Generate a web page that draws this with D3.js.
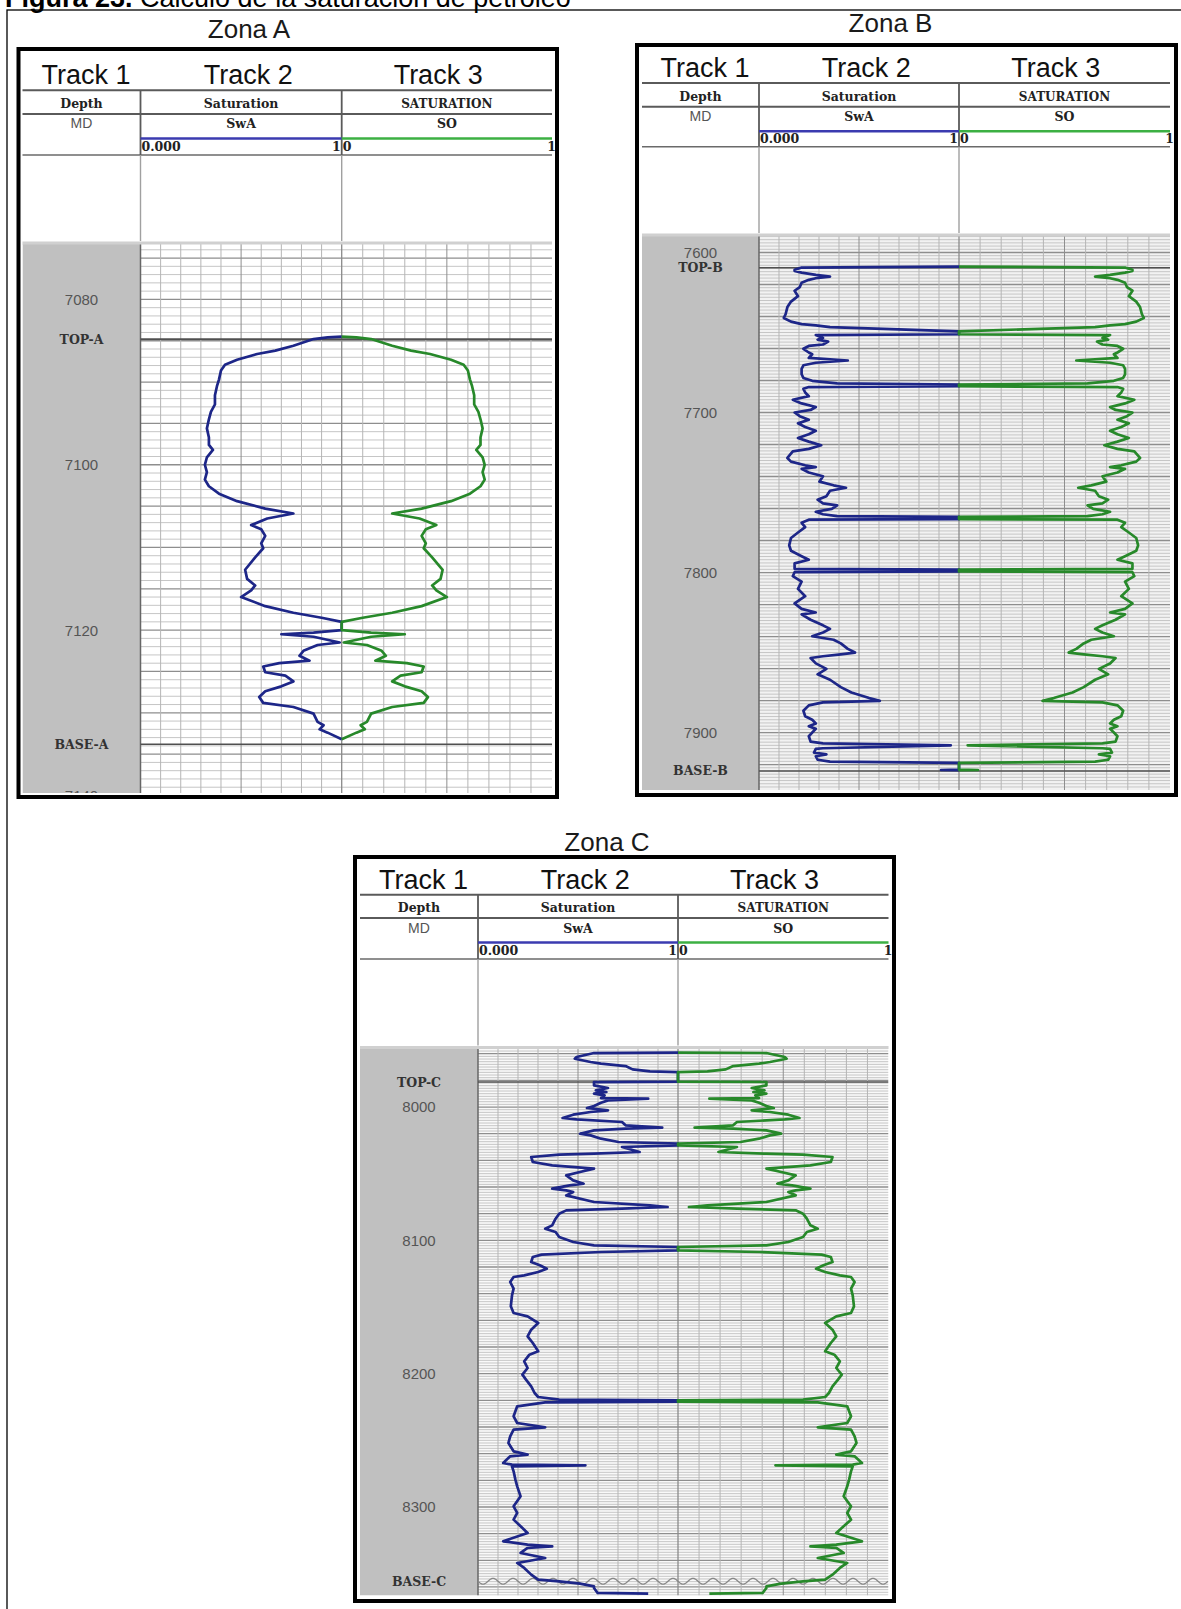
<!DOCTYPE html>
<html><head><meta charset="utf-8">
<script src="https://cdn.jsdelivr.net/npm/d3@7"></script>
<style>
html,body{margin:0;padding:0;background:#fff;overflow:hidden}
svg{display:block}
</style></head><body>
<svg id="chart" width="1181" height="1609"></svg>
<script>
// ---------------- DATA ----------------
const figureTitle = ["Figura 23.", " Cálculo de la saturación de petróleo"];
const zoneNames = ["Zona A", "Zona B", "Zona C"];
const trackTitles = ["Track 1", "Track 2", "Track 3"];
const headerRow1 = ["Depth", "Saturation", "SATURATION"];
const headerRow2 = ["MD", "SwA", "SO"];
const scaleLabels2 = ["0.000", "1"];
const scaleLabels3 = ["0", "1"];

const depthRangeA = [7073.3, 7139.7];
const depthRangeB = [7589.7, 7935.9];
const depthRangeC = [7956.1, 8366.4];

const depthTicksA = [7080, 7100, 7120, 7140];
const depthTicksB = [7600, 7700, 7800, 7900];
const depthTicksC = [8000, 8100, 8200, 8300];

const markerNamesA = ["TOP-A", "BASE-A"];
const markerDepthsA = [7084.8, 7133.8];
const markerNamesB = ["TOP-B", "BASE-B"];
const markerDepthsB = [7609.5, 7924.0];
const markerNamesC = ["TOP-C", "BASE-C"];
const markerDepthsC = [7981.25, 8355.75];

// Zona A
const depthA = [7084.5,7084.6,7084.8,7085.6,7086.2,7086.6,7087.3,7087.9,7088.6,7089.7,
7090.5,7091.6,7092.7,7093.6,7094.5,7095.6,7096.7,7097.6,7098.2,7099.1,
7100.0,7100.9,7101.8,7102.6,7103.5,7104.4,7105.3,7105.9,7106.5,7107.3,
7107.8,7108.6,7109.5,7110.1,7111.2,7112.7,7113.8,7114.6,7115.2,7116.0,
7117.1,7117.9,7118.5,7119.0,7120.0,7120.3,7120.5,7120.8,7121.5,7121.8,
7122.5,7123.1,7123.7,7124.0,7124.4,7125.1,7125.5,7126.2,7126.8,7127.4,
7128.1,7128.8,7129.3,7130.1,7131.1,7131.5,7132.0,7132.4,7133.2];
const swA = [1.00,0.93,0.86,0.76,0.67,0.58,0.48,0.42,0.40,0.39,
0.38,0.37,0.37,0.35,0.34,0.33,0.34,0.34,0.36,0.33,
0.32,0.33,0.32,0.34,0.39,0.48,0.62,0.76,0.63,0.55,
0.60,0.62,0.60,0.61,0.57,0.52,0.53,0.57,0.55,0.50,
0.62,0.76,0.90,1.00,1.00,0.86,0.70,0.86,0.99,0.88,
0.81,0.79,0.84,0.69,0.61,0.62,0.72,0.76,0.70,0.62,
0.59,0.61,0.76,0.86,0.88,0.91,0.89,0.93,1.00];
const soA = [0.00,0.07,0.14,0.24,0.33,0.42,0.52,0.58,0.60,0.61,
0.62,0.63,0.63,0.65,0.66,0.67,0.66,0.66,0.64,0.67,
0.68,0.67,0.68,0.66,0.61,0.52,0.38,0.24,0.37,0.45,
0.40,0.38,0.40,0.39,0.43,0.48,0.47,0.43,0.45,0.50,
0.38,0.24,0.10,0.00,0.00,0.14,0.30,0.14,0.01,0.12,
0.19,0.21,0.16,0.31,0.39,0.38,0.28,0.24,0.30,0.38,
0.41,0.39,0.24,0.14,0.12,0.09,0.11,0.07,0.00];

// Zona B
const depthB = [7608.8,7609.1,7609.5,7610.8,7611.5,7612.6,7614.0,7615.1,7616.1,7617.1,
7618.9,7621.6,7623.9,7627.3,7630.7,7634.1,7638.6,7640.9,7643.2,7644.8,
7645.5,7646.6,7649.3,7651.1,7651.6,7653.4,7654.5,7655.7,7657.5,7658.4,
7660.2,7662.5,7663.6,7665.9,7667.5,7668.9,7670.5,7672.7,7676.1,7678.4,
7680.2,7681.8,7682.5,7683.6,7684.1,7685.2,7687.5,7689.8,7692.0,7694.3,
7696.6,7698.4,7700.0,7702.3,7704.5,7706.8,7709.1,7711.4,7713.6,7715.9,
7718.2,7720.5,7722.7,7724.3,7728.4,7730.7,7733.0,7734.1,7735.2,7737.5,
7739.8,7743.2,7745.5,7747.0,7748.9,7752.3,7754.5,7756.8,7758.0,7760.2,
7762.0,7763.6,7764.8,7765.2,7766.6,7767.0,7768.9,7771.6,7775.0,7778.4,
7783.0,7786.4,7789.8,7792.0,7794.3,7797.7,7798.2,7799.3,7799.8,7802.3,
7805.7,7810.2,7814.8,7819.3,7822.7,7825.0,7826.1,7829.5,7833.0,7835.2,
7837.5,7839.8,7842.0,7844.3,7847.7,7850.0,7851.1,7852.3,7853.4,7856.8,
7860.2,7863.6,7867.0,7871.6,7875.0,7878.4,7880.2,7881.1,7883.0,7886.4,
7889.8,7892.0,7894.3,7896.1,7897.7,7900.0,7902.3,7905.7,7906.8,7908.0,
7909.8,7910.2,7912.5,7913.6,7914.8,7917.0,7918.2,7918.9,7923.2,7923.4,
7923.7];
const swB = [1.0,.57,.21,.178,.178,.213,.284,.355,.284,.249,
.213,.204,.178,.195,.16,.142,.133,.124,.16,.213,
.284,.355,1,1,.284,.32,.293,.346,.32,.249,
.222,.249,.266,.249,.444,.284,.222,.213,.213,.222,
.266,.391,1,1,.249,.222,.231,.249,.169,.213,
.284,.258,.178,.204,.249,.195,.231,.284,.249,.195,
.249,.311,.249,.169,.142,.16,.231,.284,.213,.249,
.32,.302,.373,.435,.355,.337,.293,.32,.391,.364,
.284,.32,.391,1,1,.249,.213,.231,.195,.16,
.151,.16,.213,.249,.178,.178,1,1,.178,.169,
.213,.195,.231,.178,.213,.284,.213,.258,.32,.355,
.32,.266,.373,.409,.444,.48,.409,.32,.258,.284,
.337,.293,.355,.409,.462,.551,.604,.32,.249,.222,
.231,.266,.284,.249,.284,.266,.249,.258,.32,.959,
.32,.284,.275,.337,.284,.293,.355,1,1,.91,
1];
const soB = [0,.43,.79,.822,.822,.787,.716,.645,.716,.751,
.787,.796,.822,.805,.84,.858,.867,.876,.84,.787,
.716,.645,0,0,.716,.68,.707,.654,.68,.751,
.778,.751,.734,.751,.556,.716,.778,.787,.787,.778,
.734,.609,0,0,.751,.778,.769,.751,.831,.787,
.716,.742,.822,.796,.751,.805,.769,.716,.751,.805,
.751,.689,.751,.831,.858,.84,.769,.716,.787,.751,
.68,.698,.627,.565,.645,.663,.707,.68,.609,.636,
.716,.68,.609,0,0,.751,.787,.769,.805,.84,
.849,.84,.787,.751,.822,.822,0,0,.822,.831,
.787,.805,.769,.822,.787,.716,.787,.742,.68,.645,
.68,.734,.627,.591,.556,.52,.591,.68,.742,.716,
.663,.707,.645,.591,.538,.449,.396,.68,.751,.778,
.769,.734,.716,.751,.716,.734,.751,.742,.68,.041,
.68,.716,.725,.663,.716,.707,.645,0,0,.09,
0];

// Zona C
const depthC = [7959.25,7959.5,7962.5,7963.75,7966.25,7967.5,7969.25,7971.75,7973.25,7973.75,
7981.0,7981.25,7983.75,7985.75,7987.5,7988.75,7990.0,7991.25,7993.25,7993.75,
7995.0,7996.75,7999.25,8000.75,8002.5,8003.75,8005.75,8008.25,8009.25,8011.25,
8013.75,8015.5,8016.25,8017.5,8020.0,8021.25,8023.75,8026.25,8027.5,8028.75,
8030.0,8033.75,8035.0,8035.75,8037.5,8041.25,8043.75,8046.25,8048.75,8051.25,
8055.0,8057.5,8058.75,8061.25,8062.5,8063.75,8066.25,8071.25,8073.75,8075.0,
8076.25,8077.5,8080.0,8083.75,8088.75,8091.25,8093.75,8097.5,8101.25,8103.75,
8105.0,8107.5,8108.75,8110.75,8112.5,8116.25,8118.75,8121.25,8123.75,8126.25,
8127.5,8131.25,8136.25,8141.25,8149.5,8154.5,8157.0,8159.5,8162.0,8167.0,
8172.0,8177.0,8183.25,8185.75,8190.75,8195.75,8200.75,8204.5,8209.5,8214.5,
8217.5,8219.5,8220.0,8221.0,8221.5,8224.5,8228.25,8232.0,8237.0,8240.25,
8242.0,8247.0,8252.0,8258.25,8260.75,8262.0,8267.0,8268.25,8268.75,8269.5,
8273.25,8279.5,8284.5,8292.0,8299.5,8304.5,8309.5,8314.5,8319.5,8325.75,
8328.25,8329.5,8330.75,8334.5,8338.25,8342.0,8345.75,8350.75,8354.5,8355.75,
8357.5,8359.5,8360.75,8364.5,8365.0];
const swC = [1,.58,.493,.484,.563,.615,.738,.773,.86,1,
1,.58,.58,.65,.589,.642,.58,.633,.615,.851,
.65,.615,.58,.545,.65,.563,.476,.423,.493,.72,
.738,.921,.738,.58,.51,.563,.615,.703,1,1,
.72,.808,.58,.406,.266,.274,.371,.58,.51,.441,
.476,.528,.458,.371,.441,.476,.441,.58,.86,.948,
.72,.441,.406,.388,.371,.336,.388,.406,.476,.58,
1,1,.615,.318,.274,.266,.309,.344,.301,.231,
.178,.161,.178,.17,.164,.178,.248,.274,.301,.266,
.248,.274,.301,.257,.231,.248,.222,.24,.266,.283,
.301,.406,1,1,.336,.196,.187,.178,.196,.336,
.178,.161,.152,.178,.248,.161,.126,.17,.537,.17,
.178,.187,.196,.213,.178,.196,.178,.213,.248,.126,
.248,.371,.248,.213,.336,.196,.231,.266,.301,.406,
.51,.58,.58,.598,.851];
const soC = [0,.42,.507,.516,.437,.385,.262,.227,.14,0,
0,.42,.42,.35,.411,.358,.42,.367,.385,.149,
.35,.385,.42,.455,.35,.437,.524,.577,.507,.28,
.262,.079,.262,.42,.49,.437,.385,.297,0,0,
.28,.192,.42,.594,.734,.726,.629,.42,.49,.559,
.524,.472,.542,.629,.559,.524,.559,.42,.14,.052,
.28,.559,.594,.612,.629,.664,.612,.594,.524,.42,
0,0,.385,.682,.726,.734,.691,.656,.699,.769,
.822,.839,.822,.83,.836,.822,.752,.726,.699,.734,
.752,.726,.699,.743,.769,.752,.778,.76,.734,.717,
.699,.594,0,0,.664,.804,.813,.822,.804,.664,
.822,.839,.848,.822,.752,.839,.874,.83,.463,.83,
.822,.813,.804,.787,.822,.804,.822,.787,.752,.874,
.752,.629,.752,.787,.664,.804,.769,.734,.699,.594,
.49,.42,.42,.402,.149];

// ---------------- LAYOUT ----------------
const SANS = "'Liberation Sans', Arial, sans-serif";
const SERIF = "'DejaVu Serif', serif";
const BLUE = "#1d2688", GREEN = "#27892a";

const panels = [
  { id: "A", name: zoneNames[0], label: [249, 38], bg: "#ffffff",
    box: [18.5, 49, 557, 797], cols: [22.5, 140.5, 341.7, 552], rows: [90.3, 113.9, 155, 244, 793],
    range: depthRangeA, ticks: depthTicksA, mNames: markerNamesA, mDepths: markerDepthsA,
    minor: 1, major: 5, depth: depthA, sw: swA, so: soA, wavyBase: false },
  { id: "B", name: zoneNames[1], label: [890.5, 32], bg: "#f2f2f2",
    box: [637, 45, 1176, 795], cols: [642, 759, 959, 1170], rows: [83, 106.7, 146.7, 236, 790],
    range: depthRangeB, ticks: depthTicksB, mNames: markerNamesB, mDepths: markerDepthsB,
    minor: 2, major: 20, depth: depthB, sw: swB, so: soB, wavyBase: false },
  { id: "C", name: zoneNames[2], label: [607, 850.5], bg: "#f9f9f9",
    box: [355, 857, 894, 1601], cols: [360, 478, 678, 888.5], rows: [894.7, 918, 959, 1048.5, 1595.5],
    range: depthRangeC, ticks: depthTicksC, mNames: markerNamesC, mDepths: markerDepthsC,
    minor: 2, major: 20, depth: depthC, sw: swC, so: soC, wavyBase: true }
];

const svg = d3.select("#chart");

// outer frame
svg.append("rect").attr("x", 7).attr("y", 10).attr("width", 1400).attr("height", 1800)
  .attr("fill", "none").attr("stroke", "#000").attr("stroke-width", 1.3);

// figure title (cut at the top edge, as in the source image)
const tt = svg.append("text").attr("x", 5).attr("y", 7).style("white-space", "pre")
  .attr("font-family", SANS).attr("font-size", 27).attr("fill", "#000");
tt.append("tspan").attr("font-weight", "bold").text(figureTitle[0]);
tt.append("tspan").text(figureTitle[1]);

function drawPanel(p) {
  const g = svg.append("g");
  const [L, T, R, B] = p.box;
  const [c0, c1, c2, c3] = p.cols;
  const [r1, r2, r3, r4, r5] = p.rows;

  g.append("text").attr("x", p.label[0]).attr("y", p.label[1]).attr("text-anchor", "middle")
    .attr("font-family", SANS).attr("font-size", 26).attr("fill", "#1a1a1a").text(p.name);

  g.append("rect").attr("x", L).attr("y", T).attr("width", R - L).attr("height", B - T).attr("fill", "#fff");

  const y = d3.scaleLinear().domain(p.range).range([r4, r5]);
  const x2 = d3.scaleLinear().domain([0, 1]).range([c1, c2]);
  const x3 = d3.scaleLinear().domain([0, 1]).range([c2, c3]);

  const clipId = "clip" + p.id;
  g.append("clipPath").attr("id", clipId).append("rect")
    .attr("x", c0).attr("y", r4).attr("width", c3 - c0).attr("height", r5 - r4);
  const area = g.append("g").attr("clip-path", `url(#${clipId})`);

  area.append("rect").attr("x", c1).attr("y", r4).attr("width", c3 - c1).attr("height", r5 - r4).attr("fill", p.bg);
  // depth track background
  area.append("rect").attr("x", c0).attr("y", r4).attr("width", c1 - c0).attr("height", r5 - r4).attr("fill", "#c0c0c0");

  // horizontal grid
  const hTicks = d3.range(Math.ceil(p.range[0] / p.minor) * p.minor, p.range[1] + 0.001, p.minor);
  const isMajor = d => Math.round(d) % p.major === 0;
  area.selectAll(null).data(hTicks.filter(d => !isMajor(d))).join("line")
    .attr("x1", c1).attr("x2", c3).attr("y1", d => y(d)).attr("y2", d => y(d))
    .attr("stroke", "#c6c6c6").attr("stroke-width", 1);
  area.selectAll(null).data(hTicks.filter(isMajor)).join("line")
    .attr("x1", c1).attr("x2", c3).attr("y1", d => y(d)).attr("y2", d => y(d))
    .attr("stroke", "#8e8e8e").attr("stroke-width", 1.3);

  // vertical grid
  const vt = d3.range(1, 10).map(i => i / 10);
  [x2, x3].forEach(xs => {
    area.selectAll(null).data(vt).join("line")
      .attr("x1", d => xs(d)).attr("x2", d => xs(d)).attr("y1", r4).attr("y2", r5)
      .attr("stroke", d => Math.abs(d - 0.5) < 1e-9 ? "#8e8e8e" : "#b5b5b5").attr("stroke-width", 1);
  });
  area.append("line").attr("x1", c1).attr("x2", c1).attr("y1", r4).attr("y2", r5).attr("stroke", "#666").attr("stroke-width", 1.5);
  area.append("line").attr("x1", c2).attr("x2", c2).attr("y1", r4).attr("y2", r5).attr("stroke", "#8a8a8a").attr("stroke-width", 1.3);

  // depth labels
  area.selectAll(null).data(p.ticks).join("text")
    .attr("x", (c0 + c1) / 2).attr("y", d => y(d)).attr("dy", "0.36em").attr("text-anchor", "middle")
    .attr("font-family", SANS).attr("font-size", 15).attr("fill", "#555").text(d => d);

  // markers
  const markers = d3.zip(p.mNames, p.mDepths);
  markers.forEach(([name, dep], i) => {
    const yy = y(dep);
    if (p.wavyBase && i === 1) {
      const pts = d3.range(c1, c3 + 1, 2).map(x => [x, yy + 3 * Math.sin((x - c1) / 20 * 2 * Math.PI)]);
      area.append("path").attr("d", d3.line()(pts)).attr("fill", "none").attr("stroke", "#888").attr("stroke-width", 1.3);
    } else {
      area.append("line").attr("x1", c1).attr("x2", c3).attr("y1", yy).attr("y2", yy)
        .attr("stroke", "#505050").attr("stroke-width", 1.6);
    }
    area.append("text").attr("x", (c0 + c1) / 2).attr("y", yy).attr("dy", "0.36em").attr("text-anchor", "middle")
      .attr("font-family", SERIF).attr("font-weight", "bold").attr("font-size", 12.5).attr("fill", "#333").text(name);
  });

  // curves
  const swLine = d3.line().x(d => x2(d[1])).y(d => y(d[0]));
  const soLine = d3.line().x(d => x3(d[1])).y(d => y(d[0]));
  area.append("path").datum(d3.zip(p.depth, p.sw)).attr("d", swLine)
    .attr("fill", "none").attr("stroke", BLUE).attr("stroke-width", 2.7).attr("stroke-linejoin", "round");
  area.append("path").datum(d3.zip(p.depth, p.so)).attr("d", soLine)
    .attr("fill", "none").attr("stroke", GREEN).attr("stroke-width", 2.7).attr("stroke-linejoin", "round");

  // top band of track area
  g.append("line").attr("x1", c0).attr("x2", c3).attr("y1", r4 - 1).attr("y2", r4 - 1).attr("stroke", "#d0d0d0").attr("stroke-width", 3);

  // ----- header -----
  const hl = (x1, y1, x2_, y2, col, w) => g.append("line").attr("x1", x1).attr("y1", y1).attr("x2", x2_).attr("y2", y2).attr("stroke", col).attr("stroke-width", w);
  hl(c0, r1, c3, r1, "#5a5a5a", 2);
  hl(c0, r2, c3, r2, "#5a5a5a", 2);
  hl(c0, r3, c3, r3, "#6a6a6a", 1.6);
  hl(c1, r1, c1, r3, "#5a5a5a", 1.8);
  hl(c2, r1, c2, r3, "#5a5a5a", 1.8);
  hl(c1, r3, c1, r4 - 3, "#a0a0a0", 1.4);
  hl(c2, r3, c2, r4 - 3, "#a0a0a0", 1.4);

  const colMid = [(c0 + c1) / 2, (c1 + c2) / 2, (c2 + c3) / 2];
  const titleOff = [4.6, 7.2, -8.7];
  trackTitles.forEach((t, i) => {
    g.append("text").attr("x", colMid[i] + titleOff[i]).attr("y", r1 - 6).attr("text-anchor", "middle")
      .attr("font-family", SANS).attr("font-size", 27).attr("fill", "#111").text(t);
  });
  headerRow1.forEach((t, i) => {
    g.append("text").attr("x", colMid[i]).attr("y", r2 - 6).attr("text-anchor", "middle")
      .attr("font-family", SERIF).attr("font-weight", "bold").attr("font-size", i === 2 ? 12 : 12.5).attr("fill", "#222").text(t);
  });
  g.append("text").attr("x", colMid[0]).attr("y", r1 + 38).attr("text-anchor", "middle")
    .attr("font-family", SANS).attr("font-size", 14).attr("fill", "#555").text(headerRow2[0]);
  [1, 2].forEach(i => {
    g.append("text").attr("x", colMid[i]).attr("y", r2 + 14.5).attr("text-anchor", "middle")
      .attr("font-family", SERIF).attr("font-weight", "bold").attr("font-size", 12.5).attr("fill", "#222").text(headerRow2[i]);
  });
  hl(c1, r2 + 24.5, c2, r2 + 24.5, "#3b3bb0", 2.5);
  hl(c2, r2 + 24.5, c3, r2 + 24.5, "#3cb043", 2.5);
  const sl = (x, anchor, t) => g.append("text").attr("x", x).attr("y", r3 - 4).attr("text-anchor", anchor)
    .attr("font-family", SERIF).attr("font-weight", "bold").attr("font-size", 12.5).attr("fill", "#222").text(t);
  sl(c1 + 1, "start", scaleLabels2[0]);
  sl(c2 - 1, "end", scaleLabels2[1]);
  sl(c2 + 1, "start", scaleLabels3[0]);
  sl(c3 + 4, "end", scaleLabels3[1]);

  // thick border
  g.append("rect").attr("x", L).attr("y", T).attr("width", R - L).attr("height", B - T)
    .attr("fill", "none").attr("stroke", "#000").attr("stroke-width", 4);
}

panels.forEach(drawPanel);
</script>
</body></html>
